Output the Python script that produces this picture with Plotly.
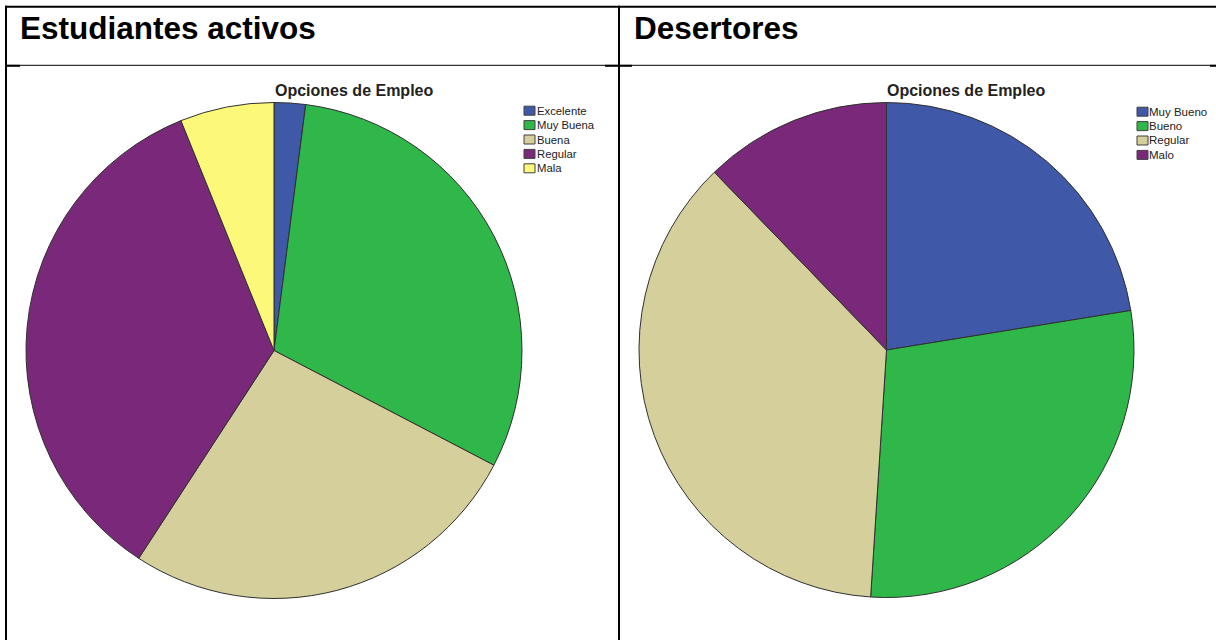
import plotly.graph_objects as go

# Estudiantes activos
activos_labels = ["Excelente", "Muy Buena", "Buena", "Regular", "Mala"]
activos_values = [1, 15, 13, 17, 3]
activos_colors = ["#3f58a8", "#2fb74a", "#d4cf9b", "#7a287a", "#fbf87a"]

# Desertores
desert_labels = ["Muy Bueno", "Bueno", "Regular", "Malo"]
desert_values = [11, 14, 18, 6]
desert_colors = ["#3f58a8", "#2fb74a", "#d4cf9b", "#7a287a"]

W, H = 1216, 640
fx = lambda px: px / W
fy = lambda py: 1 - py / H
FONT = "Arial, Liberation Sans, sans-serif"

fig = go.Figure()

fig.add_trace(go.Pie(
    labels=activos_labels, values=activos_values,
    marker=dict(colors=activos_colors, line=dict(color="#303030", width=1)),
    sort=False, direction="clockwise", rotation=0,
    textinfo="none", hoverinfo="label+value+percent", showlegend=False,
    domain=dict(x=[fx(26), fx(522)], y=[fy(599), fy(102)]),
))
fig.add_trace(go.Pie(
    labels=desert_labels, values=desert_values,
    marker=dict(colors=desert_colors, line=dict(color="#303030", width=1)),
    sort=False, direction="clockwise", rotation=0,
    textinfo="none", hoverinfo="label+value+percent", showlegend=False,
    domain=dict(x=[fx(639), fx(1134)], y=[fy(598), fy(102)]),
))

shapes = []
annotations = []


def hline(x0, x1, y, w):
    shapes.append(dict(type="line", xref="paper", yref="paper",
                       x0=fx(x0), x1=fx(x1), y0=fy(y), y1=fy(y),
                       line=dict(color="black", width=w)))


def vline(x, y0, y1, w):
    shapes.append(dict(type="line", xref="paper", yref="paper",
                       x0=fx(x), x1=fx(x), y0=fy(y0), y1=fy(y1),
                       line=dict(color="black", width=w)))


# table borders
hline(5, 1216, 6.7, 2)
vline(6, 5.7, 640, 2)
vline(619, 5.7, 640, 2)
hline(5, 1216, 65.3, 1)
hline(7, 20, 65.8, 2)
hline(605, 632, 65.8, 2)
hline(1210, 1216, 65.8, 2)


# hand-built legends (tight SPSS style spacing)
def legend(labels, colors, x_box, x_text, y_first, step, size):
    for i, (lab, col) in enumerate(zip(labels, colors)):
        yc = y_first + i * step
        shapes.append(dict(type="rect", xref="paper", yref="paper",
                           x0=fx(x_box), x1=fx(x_box + 11), y0=fy(yc - 4.5), y1=fy(yc + 4.5),
                           fillcolor=col, line=dict(color="#404040", width=1)))
        annotations.append(dict(text=lab, x=fx(x_text), y=fy(yc), xref="paper", yref="paper",
                                xanchor="left", yanchor="middle", showarrow=False,
                                font=dict(family=FONT, size=size, color="#222")))


legend(activos_labels, activos_colors, 524, 535, 110.7, 14.4, 11.3)
legend(desert_labels, desert_colors, 1137, 1147, 111.7, 14.4, 11.5)

annotations += [
    dict(text="<b>Estudiantes activos</b>", x=fx(18), y=fy(28), xref="paper", yref="paper",
         xanchor="left", yanchor="middle", showarrow=False,
         font=dict(family=FONT, size=31.5, color="black")),
    dict(text="<b>Desertores</b>", x=fx(632), y=fy(28), xref="paper", yref="paper",
         xanchor="left", yanchor="middle", showarrow=False,
         font=dict(family=FONT, size=31.5, color="black")),
    dict(text="<b>Opciones de Empleo</b>", x=fx(354), y=fy(90), xref="paper", yref="paper",
         xanchor="center", yanchor="middle", showarrow=False,
         font=dict(family=FONT, size=16, color="#222")),
    dict(text="<b>Opciones de Empleo</b>", x=fx(966), y=fy(90), xref="paper", yref="paper",
         xanchor="center", yanchor="middle", showarrow=False,
         font=dict(family=FONT, size=16, color="#222")),
]

fig.update_layout(
    width=W, height=H,
    margin=dict(l=0, r=0, t=0, b=0),
    paper_bgcolor="white", plot_bgcolor="white",
    showlegend=False,
    shapes=shapes,
    annotations=annotations,
)

fig.write_html("out.html", config={"displayModeBar": False},
               post_script="document.body.style.margin='0';")
